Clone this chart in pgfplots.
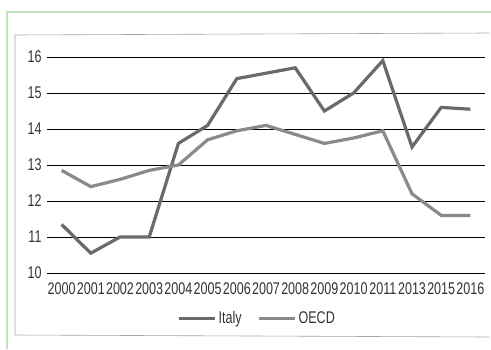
\documentclass[border=0pt]{standalone}
\usepackage{fontspec}
\setmainfont{Liberation Sans}[FakeStretch=0.74]
\usepackage{pgfplots}
\pgfplotsset{compat=1.18}
\definecolor{italy}{HTML}{6A6A6A}
\definecolor{oecd}{HTML}{8A8A8A}
\begin{document}
\begin{tikzpicture}[x=1bp,y=1bp]
\useasboundingbox (0,0) rectangle (491,349);
\fill[white] (0,0) rectangle (491,349);
\draw[green!40!gray!35, line width=1.2bp] (7,0) -- (7,337) -- (491,337);
\draw[gray!70, line width=0.6bp] (15,14) -- (15,314) -- (489,316);
\draw[gray!70, line width=0.6bp] (15,14) -- (489,12);
\begin{axis}[
  at={(47bp,76bp)}, anchor=south west, scale only axis,
  width=438bp, height=216bp,
  xmin=-0.5, xmax=14.5, ymin=10, ymax=16,
  axis line style={draw=none}, tick style={draw=none},
  ymajorgrids, grid style={black, line width=0.8bp},
  ytick={10,...,16},
  xtick={0,...,14},
  xticklabels={2000,2001,2002,2003,2004,2005,2006,2007,2008,2009,2010,2011,2013,2015,2016},
  /pgf/number format/assume math mode=true,
  tick label style={font=\fontsize{17}{18}\selectfont, text=black!80},
  yticklabel style={xshift=-2bp},
  xticklabel style={yshift=-6bp, inner xsep=0pt},
  legend style={at={(0.48,-0.21)}, anchor=center, draw=none, fill=none,
    legend columns=2, font=\fontsize{17}{18}\selectfont, text=black!80,
    /tikz/every even column/.append style={column sep=14bp}},
  legend image code/.code={\draw[#1, line width=3bp] (0bp,0bp) -- (36bp,0bp);},
]
\addplot[italy, line width=3.2bp] coordinates {
(0,11.35) (1,10.55) (2,11.0) (3,11.0) (4,13.6) (5,14.1) (6,15.4) (7,15.55)
(8,15.7) (9,14.5) (10,15.0) (11,15.9) (12,13.5) (13,14.6) (14,14.55)};
\addlegendentry{Italy}
\addplot[oecd, line width=3.2bp] coordinates {
(0,12.85) (1,12.4) (2,12.6) (3,12.85) (4,13.0) (5,13.7) (6,13.95) (7,14.1)
(8,13.85) (9,13.6) (10,13.75) (11,13.95) (12,12.2) (13,11.6) (14,11.6)};
\addlegendentry{OECD}
\end{axis}
\end{tikzpicture}
\end{document}
